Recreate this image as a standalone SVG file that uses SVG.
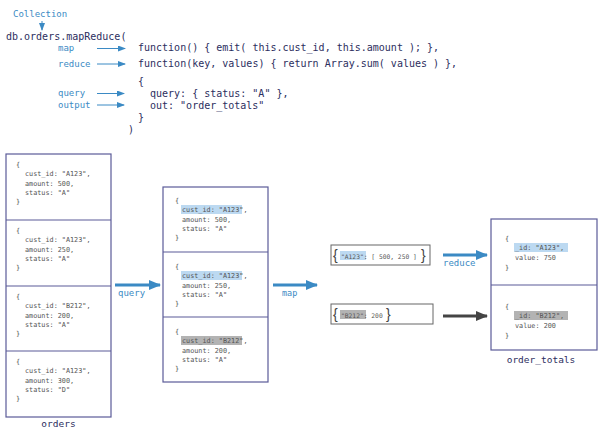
<svg xmlns="http://www.w3.org/2000/svg" width="604" height="435" viewBox="0 0 604 435">
<style>
.code{font-family:"DejaVu Sans Mono","Liberation Mono",monospace;font-size:10px;fill:#2c2e5e}
.lbl{font-family:"DejaVu Sans Mono","Liberation Mono",monospace;font-size:9px;fill:#3b8ac4}
.doc{font-family:"DejaVu Sans Mono","Liberation Mono",monospace;font-size:6.8px;fill:#555}
.kvt{font-family:"DejaVu Sans Mono","Liberation Mono",monospace;font-size:6.3px;fill:#555}
.name{font-family:"DejaVu Sans Mono","Liberation Mono",monospace;font-size:9.5px;fill:#2c2e5e}
.box{fill:#fff;stroke:#5b5b98;stroke-width:1.2}
.div{stroke:#5b5b98;stroke-width:1.2}
.kv{fill:#fff;stroke:#666;stroke-width:1}
.brace{font-family:"Liberation Sans","DejaVu Sans",sans-serif;font-size:14px;fill:#444}
.hb{fill:#bcd9f1}
.hg{fill:#b3b3b3}
.thin{stroke:#3b8ac4;stroke-width:1;fill:none}
.thick{stroke:#3b8ac4;stroke-width:3;fill:none}
.dark{stroke:#444;stroke-width:3;fill:none}
</style>
<defs>
<marker id="ah" markerWidth="8" markerHeight="6" refX="7" refY="3" orient="auto" markerUnits="userSpaceOnUse"><path d="M0,0 L8,3 L0,6 Z" fill="#3b8ac4"/></marker>
<marker id="AH" markerWidth="12" markerHeight="10" refX="11" refY="5" orient="auto" markerUnits="userSpaceOnUse"><path d="M0,0 L12,5 L0,10 Z" fill="#3b8ac4"/></marker>
<marker id="DH" markerWidth="12" markerHeight="10" refX="11" refY="5" orient="auto" markerUnits="userSpaceOnUse"><path d="M0,0 L12,5 L0,10 Z" fill="#444"/></marker>
</defs>

<g id="code">
<text class="lbl" x="13" y="17">Collection</text>
<text class="code" x="6" y="40">db.orders.mapReduce(</text>
<text class="lbl" x="58" y="51">map</text>
<text class="lbl" x="58" y="67">reduce</text>
<text class="lbl" x="58" y="96">query</text>
<text class="lbl" x="58" y="108">output</text>
<text class="code" x="138" y="51" xml:space="preserve">function() { emit( this.cust_id, this.amount ); },</text>
<text class="code" x="138" y="67" xml:space="preserve">function(key, values) { return Array.sum( values ) },</text>
<text class="code" x="138" y="85">{</text>
<text class="code" x="150" y="97" xml:space="preserve">query: { status: "A" },</text>
<text class="code" x="150" y="109" xml:space="preserve">out: "order_totals"</text>
<text class="code" x="138" y="121">}</text>
<text class="code" x="128" y="133">)</text>
</g>

<g id="orders">
<rect class="box" x="6" y="154" width="105" height="263"/>
<line class="div" x1="6" y1="220" x2="111" y2="220"/>
<line class="div" x1="6" y1="286" x2="111" y2="286"/>
<line class="div" x1="6" y1="351" x2="111" y2="351"/>
<text class="doc" x="16" y="167">{</text>
<text class="doc" x="25" y="176">cust_id: "A123",</text>
<text class="doc" x="25" y="185.5">amount: 500,</text>
<text class="doc" x="25" y="195">status: "A"</text>
<text class="doc" x="16" y="204">}</text>
<text class="doc" x="16" y="233">{</text>
<text class="doc" x="25" y="242">cust_id: "A123",</text>
<text class="doc" x="25" y="251.5">amount: 250,</text>
<text class="doc" x="25" y="261">status: "A"</text>
<text class="doc" x="16" y="270">}</text>
<text class="doc" x="16" y="299">{</text>
<text class="doc" x="25" y="308">cust_id: "B212",</text>
<text class="doc" x="25" y="317.5">amount: 200,</text>
<text class="doc" x="25" y="327">status: "A"</text>
<text class="doc" x="16" y="336">}</text>
<text class="doc" x="16" y="364">{</text>
<text class="doc" x="25" y="373">cust_id: "A123",</text>
<text class="doc" x="25" y="382.5">amount: 300,</text>
<text class="doc" x="25" y="392">status: "D"</text>
<text class="doc" x="16" y="401">}</text>
<text class="name" x="58.5" y="427" text-anchor="middle">orders</text>
</g>

<g id="filtered">
<rect class="box" x="163" y="187" width="105" height="195"/>
<line class="div" x1="163" y1="252" x2="268" y2="252"/>
<line class="div" x1="163" y1="317" x2="268" y2="317"/>
<rect class="hb" x="181" y="205" width="61" height="9"/>
<rect class="hb" x="181" y="271" width="61" height="9"/>
<rect class="hg" x="181" y="336" width="61" height="9"/>
<text class="doc" x="175" y="203">{</text>
<text class="doc" x="182" y="212">cust_id: "A123",</text>
<text class="doc" x="182" y="221.5">amount: 500,</text>
<text class="doc" x="182" y="231">status: "A"</text>
<text class="doc" x="175" y="240">}</text>
<text class="doc" x="175" y="269">{</text>
<text class="doc" x="182" y="278">cust_id: "A123",</text>
<text class="doc" x="182" y="287.5">amount: 250,</text>
<text class="doc" x="182" y="297">status: "A"</text>
<text class="doc" x="175" y="306">}</text>
<text class="doc" x="175" y="334">{</text>
<text class="doc" x="182" y="343">cust_id: "B212",</text>
<text class="doc" x="182" y="352.5">amount: 200,</text>
<text class="doc" x="182" y="362">status: "A"</text>
<text class="doc" x="175" y="371">}</text>
</g>

<g id="kvA123">
<rect class="kv" x="331" y="245" width="99" height="20"/>
<text class="brace" x="333" y="260">{</text>
<rect class="hb" x="340" y="251" width="26" height="9"/>
<text class="kvt" x="341" y="258.5" xml:space="preserve">"A123": [ 500, 250 ]</text>
<text class="brace" x="421" y="260">}</text>
</g>

<g id="kvB212">
<rect class="kv" x="331" y="304" width="102" height="20"/>
<text class="brace" x="333" y="319">{</text>
<rect class="hg" x="340" y="310" width="26" height="9"/>
<text class="kvt" x="341" y="317.5" xml:space="preserve">"B212": 200</text>
<text class="brace" x="386" y="319">}</text>
</g>

<g id="order_totals">
<rect class="box" x="491" y="219" width="106" height="131"/>
<line class="div" x1="491" y1="285" x2="597" y2="285"/>
<rect class="hb" x="514" y="243" width="54" height="9"/>
<rect class="hg" x="514" y="311" width="54" height="9"/>
<text class="doc" x="505" y="240.5">{</text>
<text class="doc" x="515" y="250">_id: "A123",</text>
<text class="doc" x="515" y="260">value: 750</text>
<text class="doc" x="505" y="269.5">}</text>
<text class="doc" x="505" y="309">{</text>
<text class="doc" x="515" y="318">_id: "B212",</text>
<text class="doc" x="515" y="328">value: 200</text>
<text class="doc" x="505" y="337.5">}</text>
<text class="name" x="541" y="363" text-anchor="middle">order_totals</text>
</g>

<g id="connectors">
<line class="thin" x1="42" y1="21" x2="42" y2="30" marker-end="url(#ah)"/>
<line class="thin" x1="97" y1="48.5" x2="125" y2="48.5" marker-end="url(#ah)"/>
<line class="thin" x1="97" y1="64" x2="125" y2="64" marker-end="url(#ah)"/>
<line class="thin" x1="97" y1="93.5" x2="124" y2="93.5" marker-end="url(#ah)"/>
<line class="thin" x1="97" y1="105" x2="124" y2="105" marker-end="url(#ah)"/>
<line class="thick" x1="115" y1="285" x2="160" y2="285" marker-end="url(#AH)"/>
<text class="lbl" x="118" y="296">query</text>
<line class="thick" x1="273" y1="285" x2="317" y2="285" marker-end="url(#AH)"/>
<text class="lbl" x="282" y="296" style="font-size:8.5px">map</text>
<line class="thick" x1="443" y1="255" x2="487" y2="255" marker-end="url(#AH)"/>
<text class="lbl" x="443" y="266">reduce</text>
<line class="dark" x1="443" y1="316" x2="487" y2="316" marker-end="url(#DH)"/>
</g>
</svg>
